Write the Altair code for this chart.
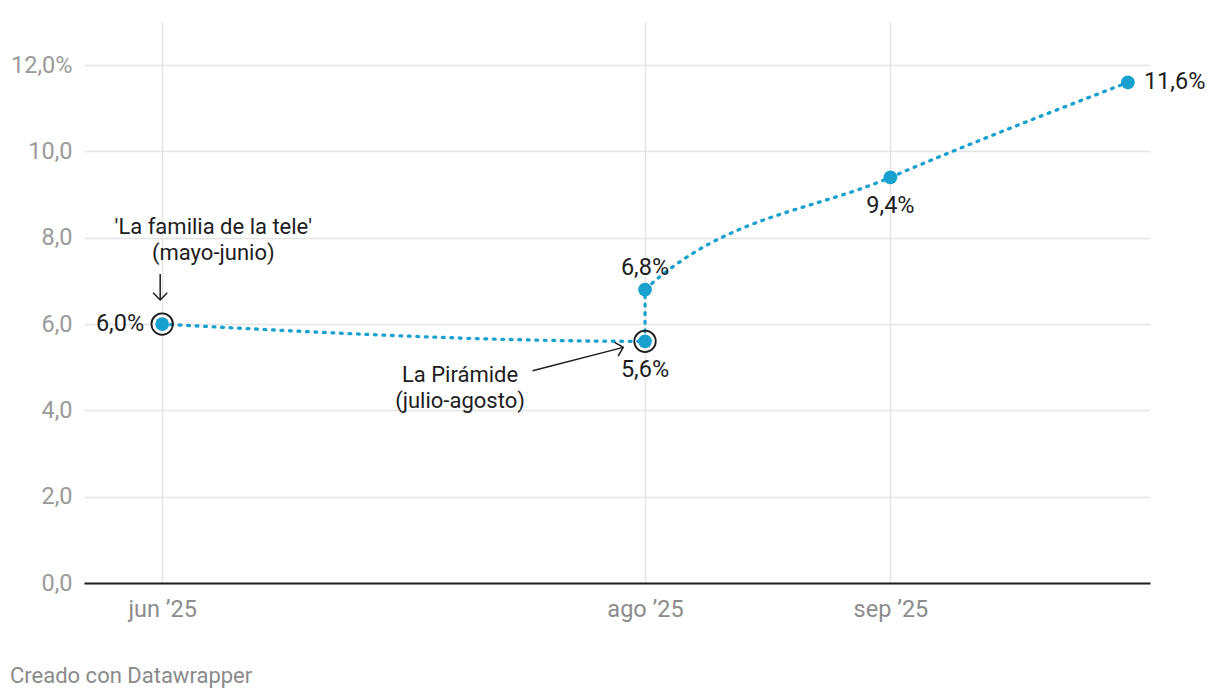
import altair as alt
import pandas as pd

# ---- series ----
dates = ["2025-06-01T00:00:00", "2025-08-01T00:00:00", "2025-08-01T00:00:00",
         "2025-09-01T00:00:00", "2025-10-01T00:00:00"]
values = [6.0, 5.6, 6.8, 9.4, 11.6]
highlighted = [True, True, False, False, False]
label_side = ["left", "below", "above", "below", "right"]

# ---- axis ticks ----
tick_dates = ["2025-06-01T00:00:00", "2025-08-01T00:00:00", "2025-09-01T00:00:00"]
tick_labels = ["jun \u201925", "ago \u201925", "sep \u201925"]
y_ticks = [0, 2, 4, 6, 8, 10, 12]

# ---- annotations ----
ann_text = ["'La familia de la tele'", "(mayo-junio)", "La Pir\u00e1mide", "(julio-agosto)"]
ann_date = ["2025-06-07T11:00:00", "2025-06-07T11:00:00", "2025-07-08T15:00:00", "2025-07-08T15:00:00"]
ann_value = [8.25, 7.64, 4.82, 4.22]

arrow_start_date = ["2025-05-31T18:00:00", "2025-07-17T19:00:00"]
arrow_start_value = [7.16, 4.92]
arrow_end_date = ["2025-05-31T18:00:00", "2025-07-29T06:00:00"]
arrow_end_value = [6.56, 5.46]
arrow_angle = [90, 345.5]

BLUE = "#18a0cf"
INK = "#1d1d1d"
FONT = "Roboto"
NUM_SIZE = 23.5
TXT_SIZE = 22

df = pd.DataFrame({"date": dates, "value": values, "hl": highlighted,
                   "side": label_side, "idx": list(range(len(values)))})
ann = pd.DataFrame({"text": ann_text, "date": ann_date, "value": ann_value})
arr = pd.DataFrame({"d0": arrow_start_date, "v0": arrow_start_value,
                    "d1": arrow_end_date, "v1": arrow_end_value, "angle": arrow_angle})


def dt(s):
    t = pd.Timestamp(s)
    return alt.DateTime(year=t.year, month=t.month, date=t.day, hours=t.hour, minutes=t.minute)


month_expr = " : ".join(
    f"month(datum.value) == {pd.Timestamp(d).month - 1} ? '{lab}'" for d, lab in zip(tick_dates, tick_labels)
) + " : ''"

x_scale = alt.Scale(domain=[dt("2025-05-22T03:00:00"), dt("2025-10-03T19:00:00")])
y_scale = alt.Scale(domain=[0, 13], nice=False)

x_enc = alt.X("date:T", scale=x_scale, axis=alt.Axis(
    values=[dt(d) for d in tick_dates], labelExpr=month_expr, title=None,
    grid=True, gridColor="#e4e4e4", gridWidth=1.5, ticks=False,
    domain=True, domainColor=INK, domainWidth=2,
    labelFont=FONT, labelFontSize=NUM_SIZE, labelColor="#8c8c8c", labelPadding=14))
y_enc = alt.Y("value:Q", scale=y_scale, axis=alt.Axis(
    values=y_ticks, title=None, grid=True, gridColor="#e4e4e4", gridWidth=1.5,
    ticks=False, domain=False,
    labelExpr="datum.value == 12 ? '12,0%' : replace(format(datum.value, '.1f'), '.', ',')",
    labelFont=FONT, labelFontSize=NUM_SIZE, labelColor="#9a9a9a", labelPadding=12))

base = alt.Chart(df)

line = base.mark_line(color=BLUE, strokeWidth=3.3, strokeDash=[1.8, 6.7], strokeCap="round",
                      interpolate="monotone").encode(x=x_enc, y=y_enc, order="idx:Q")
points = base.mark_circle(color=BLUE, size=190, opacity=1).encode(x="date:T", y="value:Q")
rings = base.transform_filter("datum.hl").mark_point(
    shape="circle", size=460, filled=False, stroke=INK, strokeWidth=1.8, opacity=1
).encode(x="date:T", y="value:Q")

lab = base.transform_calculate(
    label="replace(format(datum.value, '.1f'), '.', ',') + '%'")
num = dict(font=FONT, fontSize=NUM_SIZE, color=INK, baseline="middle")
txt = dict(font=FONT, fontSize=TXT_SIZE, color=INK, baseline="middle")
lab_left = lab.transform_filter("datum.side == 'left'").mark_text(align="right", dx=-18, **num).encode(
    x="date:T", y="value:Q", text="label:N")
lab_below = lab.transform_filter("datum.side == 'below'").mark_text(align="center", dy=29, **num).encode(
    x="date:T", y="value:Q", text="label:N")
lab_above = lab.transform_filter("datum.side == 'above'").mark_text(align="center", dy=-22, **num).encode(
    x="date:T", y="value:Q", text="label:N")
lab_right = lab.transform_filter("datum.side == 'right'").mark_text(align="left", dx=16, **num).encode(
    x="date:T", y="value:Q", text="label:N")

ann_text_layer = alt.Chart(ann).mark_text(align="center", **txt).encode(
    x="date:T", y="value:Q", text="text:N")

arrow_lines = alt.Chart(arr).mark_rule(color=INK, strokeWidth=1.5).encode(
    x="d0:T", y="v0:Q", x2=alt.X2("d1"), y2=alt.Y2("v1"))
arrow_heads = alt.Chart(arr).mark_point(
    shape="M -1 -1 L 0 0 L -1 1", size=200, filled=False, stroke=INK, strokeWidth=1.5, opacity=1
).encode(x="d1:T", y="v1:Q", angle=alt.Angle("angle:Q", scale=None))

footer = alt.Chart(pd.DataFrame({"t": ["Creado con Datawrapper"]})).mark_text(
    align="left", baseline="middle", font=FONT, fontSize=TXT_SIZE, color="#8a8a8a"
).encode(x=alt.value(-74), y=alt.value(654), text="t:N")

chart = alt.layer(
    line, points, rings, lab_left, lab_below, lab_above, lab_right,
    ann_text_layer, arrow_lines, arrow_heads, footer
).properties(
    width=1066, height=561,
    autosize=alt.AutoSizeParams(type="none"),
    padding={"left": 76, "top": 14, "right": 62, "bottom": 109},
).configure(
    font=FONT, background="white"
).configure_view(strokeWidth=0, stroke=None)

chart.save("out.html", embed_options={"renderer": "svg", "actions": False})
